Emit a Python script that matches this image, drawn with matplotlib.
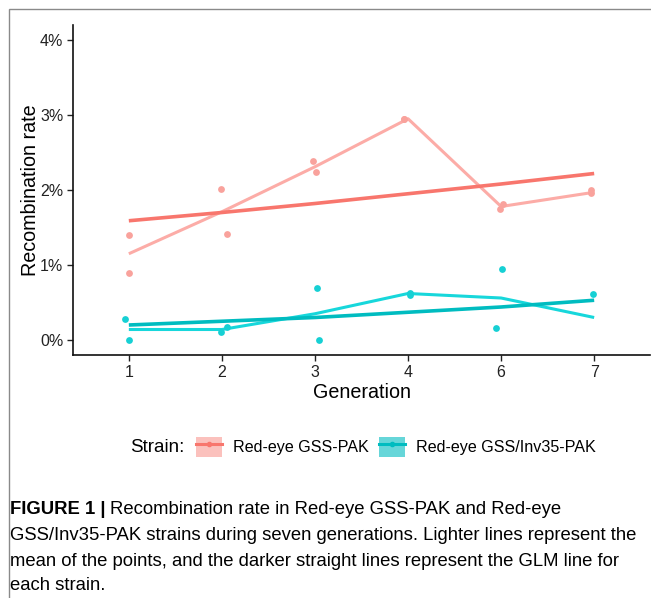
import matplotlib
matplotlib.use("Agg")
import matplotlib.pyplot as plt
from matplotlib.patches import Patch, Rectangle
from matplotlib.lines import Line2D

# データ（単位: %）
generations = ["1", "2", "3", "4", "6", "7"]
strains = ["Red-eye GSS-PAK", "Red-eye GSS/Inv35-PAK"]

# 各点（世代インデックス, ジッター, 値）
red_gen = [0, 0, 1, 1, 2, 2, 3, 3, 4, 4, 5, 5]
red_jit = [0.0, 0.0, -0.01, 0.05, -0.02, 0.01, -0.04, -0.04, -0.01, 0.02, -0.03, -0.03]
red_val = [1.40, 0.90, 2.01, 1.41, 2.39, 2.24, 2.95, 2.95, 1.75, 1.81, 2.00, 1.96]

cyan_gen = [0, 0, 1, 1, 2, 2, 3, 3, 4, 4, 5]
cyan_jit = [-0.04, 0.0, -0.01, 0.06, 0.02, 0.04, 0.02, 0.02, 0.01, -0.05, -0.01]
cyan_val = [0.28, 0.00, 0.11, 0.18, 0.70, 0.00, 0.63, 0.60, 0.95, 0.16, 0.61]

# 平均線（明るい線）
red_mean = [1.15, 1.71, 2.31, 2.95, 1.78, 1.97]
cyan_mean = [0.14, 0.14, 0.35, 0.62, 0.56, 0.30]

# GLM線（濃い線）
red_glm = [1.59, 1.70, 1.82, 1.95, 2.08, 2.22]
cyan_glm = [0.20, 0.25, 0.30, 0.37, 0.44, 0.53]

RED = "#F8766D"
RED_LIGHT = "#FCACA7"
RED_PT = "#F9A29C"
CYAN = "#00BCC0"
CYAN_LIGHT = "#17D7DB"
CYAN_PT = "#16D0D4"

plt.rcParams["font.family"] = ["Liberation Sans", "DejaVu Sans"]

W, H = 651, 598
fig = plt.figure(figsize=(W / 100, H / 100), dpi=100)

# 外枠
fig.patches.append(Rectangle((9 / W, -0.1), 1.2, 1 - 9 / H + 0.1, transform=fig.transFigure,
                             fill=False, edgecolor="#8a8a8a", linewidth=1.0))

ax = fig.add_axes([73 / W, 1 - 355 / H, (650 - 73) / W, (355 - 25) / H])

x = list(range(len(generations)))

ax.scatter([g + j for g, j in zip(red_gen, red_jit)], red_val, s=24, color=RED_PT, zorder=3, linewidths=0)
ax.scatter([g + j for g, j in zip(cyan_gen, cyan_jit)], cyan_val, s=24, color=CYAN_PT, zorder=3, linewidths=0)

ax.plot(x, red_mean, color=RED_LIGHT, lw=2.2, solid_capstyle="butt", zorder=2)
ax.plot(x, cyan_mean, color=CYAN_LIGHT, lw=2.2, solid_capstyle="butt", zorder=2)
ax.plot(x, red_glm, color=RED, lw=2.6, solid_capstyle="butt", zorder=4)
ax.plot(x, cyan_glm, color=CYAN, lw=2.6, solid_capstyle="butt", zorder=4)

ax.set_xlim(-0.6, 5.6)
ax.set_ylim(-0.2, 4.2)
ax.set_xticks(x)
ax.set_xticklabels(generations)
ax.set_yticks([0, 1, 2, 3, 4])
ax.set_yticklabels([f"{v}%" for v in range(5)])
ax.tick_params(labelsize=11.5, length=4, width=1, color="#222222", labelcolor="#222222", pad=3)
for s in ["top", "right"]:
    ax.spines[s].set_visible(False)
for s in ["left", "bottom"]:
    ax.spines[s].set_linewidth(1.2)
    ax.spines[s].set_color("#111111")
ax.set_xlabel("Generation", fontsize=14.2, labelpad=2)
ax.set_ylabel("Recombination rate", fontsize=14.2, labelpad=0)

# 凡例
fig.text(130 / W, 1 - 447 / H, "Strain:", fontsize=13.5, va="center", ha="left")
handles = [
    (Patch(facecolor=RED, alpha=0.45, edgecolor="none"),
     Line2D([], [], color=RED, lw=2.2, marker="o", markersize=3)),
    (Patch(facecolor=CYAN, alpha=0.6, edgecolor="none"),
     Line2D([], [], color=CYAN, lw=2.2, marker="o", markersize=3)),
]
fs = 11.6
px = fs * 100 / 72
fig.legend(handles, strains, ncol=2, frameon=False, fontsize=fs,
           loc="center left", bbox_to_anchor=(196 / W, 1 - 447 / H),
           borderpad=0, borderaxespad=0, handlelength=26 / px, handleheight=26 / px,
           handletextpad=11 / px, columnspacing=10 / px)

# キャプション
cap_fs = 13.3
r = fig.canvas.get_renderer()
t = fig.text(10 / W, 1 - 510 / H, "FIGURE 1 |", fontsize=cap_fs, fontweight="bold", va="center")
bb = t.get_window_extent(r)
fig.text((bb.x1 + 4) / W, 1 - 510 / H, "Recombination rate in Red-eye GSS-PAK and Red-eye",
         fontsize=cap_fs, va="center")
lines = [
    "GSS/Inv35-PAK strains during seven generations. Lighter lines represent the",
    "mean of the points, and the darker straight lines represent the GLM line for",
    "each strain.",
]
for i, ln in enumerate(lines):
    fig.text(10 / W, 1 - (536 + 25 * i) / H, ln, fontsize=cap_fs, va="center")

fig.savefig("out.png", dpi=100)
